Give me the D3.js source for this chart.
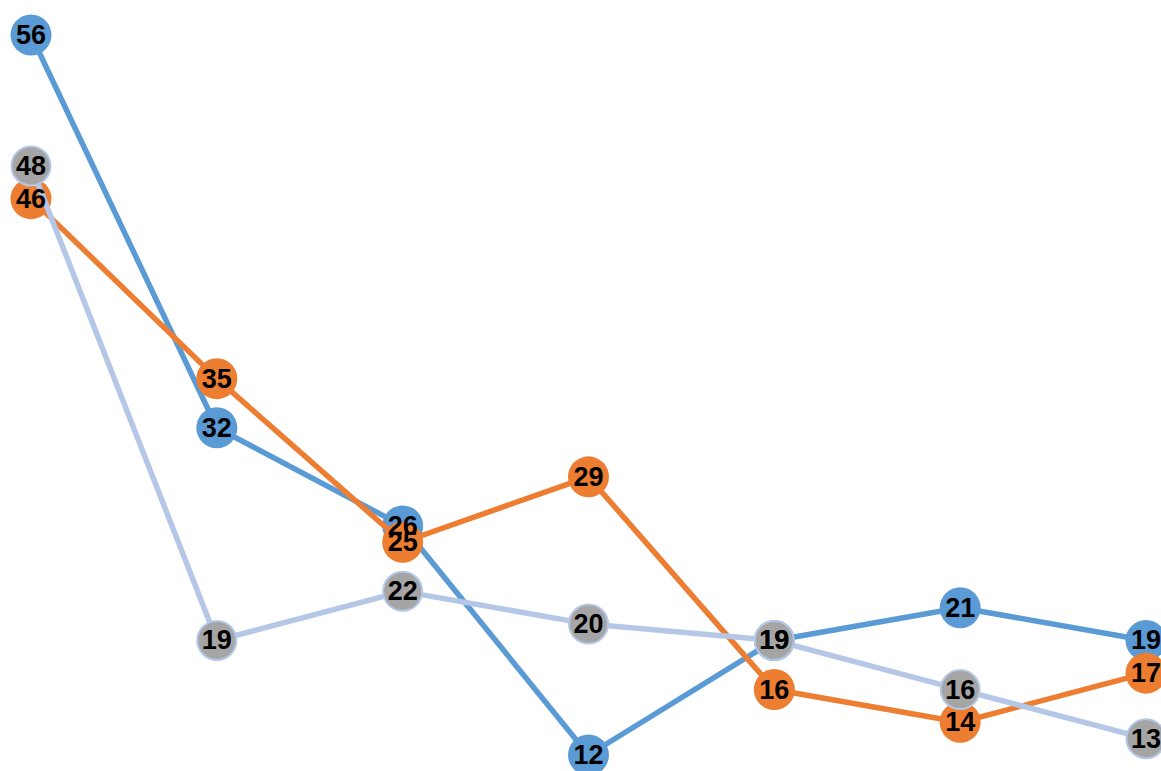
<!DOCTYPE html>
<html>
<head>
<meta charset="utf-8">
<script src="https://cdn.jsdelivr.net/npm/d3@7"></script>
<style>
html,body{margin:0;padding:0;background:#fff;overflow:hidden;}
svg{display:block;}
</style>
</head>
<body>
<svg id="chart" width="1161" height="771"></svg>
<script>
const categories = ["1","2","3","4","5","6","7"];
const seriesA = [56, 32, 26, 12, 19, 21, 19];
const seriesB = [46, 35, 25, 29, 16, 14, 17];
const seriesC = [48, 19, 22, 20, 19, 16, 13];

const series = [
  {name:"A", values: seriesA, line:"#5b9bd5", fill:"#5b9bd5", stroke:"none"},
  {name:"B", values: seriesB, line:"#ed7d31", fill:"#ed7d31", stroke:"none"},
  {name:"C", values: seriesC, line:"#b4c7e7", fill:"#a5a5a5", stroke:"#b4c7e7"}
];

const svg = d3.select("#chart");
const x = d3.scalePoint().domain(categories).range([31, 1146]);
const y = d3.scaleLinear().domain([12, 56]).range([755, 35]);

const line = d3.line().x((d,i)=>x(categories[i])).y(d=>y(d));
const r = 20.5;

series.forEach(s=>{
  const g = svg.append("g");
  g.append("path").datum(s.values)
    .attr("d", line).attr("fill","none")
    .attr("stroke", s.line).attr("stroke-width", 5.5)
    .attr("stroke-linejoin","round");
  g.selectAll("circle").data(s.values).join("circle")
    .attr("cx",(d,i)=>x(categories[i])).attr("cy",d=>y(d))
    .attr("r", s.stroke==="none" ? r : r-1)
    .attr("fill", s.fill)
    .attr("stroke", s.stroke).attr("stroke-width", 2);
});

const lg = svg.append("g");
series.forEach(s=>{
  lg.append("g").selectAll("text").data(s.values).join("text")
    .attr("x",(d,i)=>x(categories[i])).attr("y",d=>y(d))
    .attr("text-anchor","middle").attr("dominant-baseline","central")
    .attr("font-family","'Liberation Sans', Arial, sans-serif")
    .attr("font-weight","bold").attr("font-size",27)
    .attr("fill","#000").text(d=>d);
});
</script>
</body>
</html>
